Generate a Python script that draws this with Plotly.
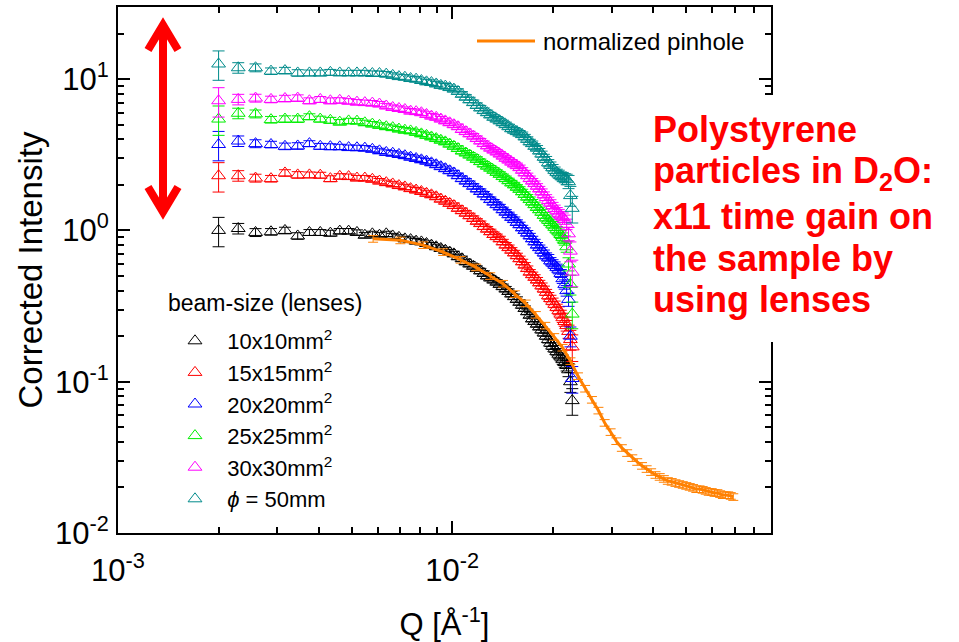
import plotly.graph_objects as go

# ---------------- data ----------------
q = [0.00200, 0.00229, 0.00258, 0.00287, 0.00316, 0.00345, 0.00374, 0.00403, 0.00432, 0.00461,
     0.00490, 0.00519, 0.00548, 0.00577, 0.00606, 0.00635, 0.00664, 0.00693, 0.00722, 0.00751,
     0.00780, 0.00809, 0.00838, 0.00867, 0.00896, 0.00925, 0.00954, 0.00983, 0.01012, 0.01041,
     0.01070, 0.01099, 0.01128, 0.01157, 0.01186, 0.01215, 0.01244, 0.01273, 0.01302, 0.01331,
     0.01360, 0.01389, 0.01418, 0.01447, 0.01476, 0.01505, 0.01534, 0.01563, 0.01592, 0.01621,
     0.01650, 0.01679, 0.01708, 0.01737, 0.01766, 0.01795, 0.01824, 0.01853, 0.01882, 0.01911,
     0.01940, 0.01969, 0.01998, 0.02027, 0.02056, 0.02085, 0.02114, 0.02143, 0.02172, 0.02201,
     0.02230, 0.02259, 0.02288]

I_10x10 = [1.0, 1.03, 0.97, 0.98, 1.0, 0.92, 0.97, 0.97, 0.96, 0.99,
           0.99, 0.97, 0.93, 0.95, 0.93, 0.95, 0.92, 0.9, 0.88, 0.87,
           0.85, 0.84, 0.82, 0.8, 0.78, 0.76, 0.74, 0.72, 0.7, 0.67,
           0.65, 0.62, 0.6, 0.58, 0.56, 0.54, 0.52, 0.5, 0.485, 0.47,
           0.455, 0.44, 0.425, 0.41, 0.395, 0.38, 0.365, 0.35, 0.335, 0.32,
           0.305, 0.29, 0.275, 0.26, 0.25, 0.24, 0.23, 0.22, 0.21, 0.2,
           0.19, 0.18, 0.172, 0.165, 0.158, 0.152, 0.146, 0.14, 0.134, 0.128,
           0.12, 0.1, 0.075]

I_15x15 = [2.3, 2.3, 2.22, 2.2, 2.4, 2.33, 2.33, 2.32, 2.2, 2.28,
           2.27, 2.22, 2.22, 2.18, 2.12, 2.07, 2.03, 1.98, 1.94, 1.89,
           1.85, 1.81, 1.76, 1.72, 1.67, 1.61, 1.56, 1.51, 1.46, 1.4,
           1.35, 1.3, 1.25, 1.2, 1.15, 1.11, 1.06, 1.02, 0.98, 0.94,
           0.91, 0.88, 0.84, 0.8, 0.77, 0.74, 0.71, 0.68, 0.65, 0.62,
           0.59, 0.56, 0.53, 0.51, 0.49, 0.47, 0.45, 0.43, 0.41, 0.39,
           0.37, 0.355, 0.34, 0.325, 0.31, 0.295, 0.28, 0.265, 0.25, 0.235,
           0.215, 0.19, 0.17]

I_20x20 = [3.7, 3.9, 3.75, 3.7, 3.6, 3.62, 3.75, 3.6, 3.58, 3.57,
           3.53, 3.52, 3.5, 3.44, 3.36, 3.28, 3.24, 3.18, 3.12, 3.05,
           2.99, 2.93, 2.87, 2.8, 2.72, 2.64, 2.56, 2.48, 2.4, 2.3,
           2.2, 2.12, 2.04, 1.96, 1.88, 1.81, 1.74, 1.67, 1.6, 1.54,
           1.48, 1.43, 1.37, 1.32, 1.27, 1.22, 1.18, 1.13, 1.09, 1.04,
           1.0, 0.96, 0.92, 0.88, 0.84, 0.8, 0.77, 0.74, 0.71, 0.68,
           0.66, 0.63, 0.61, 0.59, 0.57, 0.55, 0.52, 0.48, 0.44, 0.4,
           0.35, 0.2, 0.105]

I_25x25 = [5.45, 5.95, 5.9, 5.4, 5.45, 5.45, 5.65, 5.45, 5.35, 5.2,
           5.3, 5.28, 5.15, 5.05, 4.95, 4.85, 4.78, 4.68, 4.6, 4.55,
           4.45, 4.35, 4.25, 4.15, 4.05, 3.95, 3.85, 3.72, 3.6, 3.48,
           3.35, 3.25, 3.15, 3.05, 2.95, 2.85, 2.75, 2.66, 2.58, 2.5,
           2.42, 2.35, 2.27, 2.2, 2.13, 2.06, 2.0, 1.93, 1.87, 1.8,
           1.73, 1.66, 1.6, 1.54, 1.48, 1.42, 1.37, 1.32, 1.26, 1.21,
           1.17, 1.13, 1.09, 1.05, 1.01, 0.98, 0.94, 0.9, 0.86, 0.78,
           0.6, 0.44, 0.28]

I_30x30 = [7.2, 7.35, 7.5, 7.35, 7.45, 7.5, 7.2, 7.35, 7.2, 7.25,
           7.15, 7.05, 7.0, 6.95, 6.85, 6.65, 6.5, 6.4, 6.3, 6.15,
           6.1, 6.0, 5.85, 5.7, 5.6, 5.45, 5.3, 5.15, 5.0, 4.85,
           4.65, 4.5, 4.35, 4.2, 4.05, 3.9, 3.75, 3.62, 3.5, 3.4,
           3.3, 3.2, 3.1, 3.0, 2.92, 2.83, 2.75, 2.68, 2.6, 2.5,
           2.4, 2.3, 2.2, 2.12, 2.04, 1.96, 1.88, 1.8, 1.72, 1.65,
           1.58, 1.52, 1.46, 1.4, 1.35, 1.3, 1.26, 1.22, 1.18, 1.1,
           0.95, 0.73, 0.53]

I_phi50 = [12.6, 11.9, 11.9, 11.3, 11.4, 11.0, 11.0, 11.0, 11.1, 11.0,
           11.0, 11.0, 11.0, 10.9, 10.9, 10.8, 10.6, 10.4, 10.3, 10.1,
           10.0, 9.8, 9.6, 9.5, 9.3, 9.1, 9.0, 8.8, 8.6, 8.3,
           7.95, 7.6, 7.3, 7.0, 6.7, 6.45, 6.2, 6.0, 5.8, 5.6,
           5.45, 5.3, 5.15, 5.0, 4.85, 4.7, 4.6, 4.5, 4.4, 4.3,
           4.15, 4.0, 3.85, 3.75, 3.6, 3.5, 3.35, 3.2, 3.05, 2.95,
           2.8, 2.7, 2.6, 2.5, 2.42, 2.36, 2.3, 2.26, 2.22, 2.18,
           2.1, 1.7, 1.4]

# relative error of each lens point (same for all beam sizes)
rel_err = [0.22, 0.08, 0.06, 0.05, 0.05, 0.05, 0.045, 0.045, 0.045, 0.04,
           0.04, 0.04, 0.04, 0.04, 0.04, 0.04, 0.04, 0.04, 0.04, 0.04,
           0.04, 0.04, 0.04, 0.04, 0.04, 0.04, 0.04, 0.04, 0.04, 0.04,
           0.04, 0.04, 0.04, 0.04, 0.04, 0.04, 0.04, 0.04, 0.04, 0.04,
           0.04, 0.04, 0.04, 0.04, 0.04, 0.04, 0.04, 0.04, 0.04, 0.04,
           0.04, 0.04, 0.04, 0.04, 0.04, 0.04, 0.04, 0.045, 0.045, 0.045,
           0.05, 0.05, 0.05, 0.05, 0.05, 0.06, 0.06, 0.07, 0.07, 0.08,
           0.1, 0.15, 0.2]

q_pin = [0.0058, 0.0070, 0.0082, 0.0094, 0.0106, 0.0118, 0.0130, 0.0142, 0.0154, 0.0166,
         0.0178, 0.0190, 0.0202, 0.0214, 0.0226, 0.0238, 0.0250, 0.0262, 0.0274, 0.0286,
         0.0298, 0.0310, 0.0322, 0.0334, 0.0346, 0.0358, 0.0370, 0.0382, 0.0394, 0.0406,
         0.0418, 0.0430, 0.0442, 0.0454, 0.0466, 0.0478, 0.0490, 0.0502, 0.0514, 0.0526,
         0.0538, 0.0550, 0.0562, 0.0574, 0.0586, 0.0598, 0.0610, 0.0622, 0.0634, 0.0646,
         0.0658, 0.0670, 0.0682, 0.0694]
I_pin = [0.88, 0.86, 0.80, 0.72, 0.64, 0.57, 0.50, 0.445, 0.38, 0.33,
         0.277, 0.235, 0.198, 0.168, 0.137, 0.109, 0.090, 0.076, 0.0645, 0.0535,
         0.0465, 0.0405, 0.0365, 0.0338, 0.0313, 0.0295, 0.0278, 0.0265, 0.0253, 0.0242,
         0.0235, 0.0228, 0.0221, 0.0218, 0.0214, 0.0211, 0.0208, 0.0205, 0.0202, 0.0199,
         0.0195, 0.0195, 0.0193, 0.0190, 0.0187, 0.0187, 0.0184, 0.0184, 0.0181, 0.0178,
         0.0178, 0.0178, 0.0176, 0.0173]

series_names = ["10x10mm<sup>2</sup>", "15x15mm<sup>2</sup>", "20x20mm<sup>2</sup>",
                "25x25mm<sup>2</sup>", "30x30mm<sup>2</sup>", "<i>\u03d5</i> = 50mm"]
series_values = [I_10x10, I_15x15, I_20x20, I_25x25, I_30x30, I_phi50]
series_colors = ["#000000", "#FF0000", "#0000FF", "#00EE00", "#FF00FF", "#008B8B"]

x_ticks = [0.001, 0.01]
x_ticktext = ["10<sup>-3</sup>", "10<sup>-2</sup>"]
y_ticks = [0.01, 0.1, 1, 10]
y_ticktext = ["10<sup>-2</sup>", "10<sup>-1</sup>", "10<sup>0</sup>", "10<sup>1</sup>"]
x_minor = [0.002, 0.003, 0.004, 0.005, 0.006, 0.007, 0.008, 0.009,
           0.02, 0.03, 0.04, 0.05, 0.06, 0.07, 0.08]
y_minor = [0.02, 0.03, 0.04, 0.05, 0.06, 0.07, 0.08, 0.09,
           0.2, 0.3, 0.4, 0.5, 0.6, 0.7, 0.8, 0.9,
           2, 3, 4, 5, 6, 7, 8, 9, 20]

legend_title = "beam-size (lenses)"
note_lines = ["Polystyrene", "particles in D<sub>2</sub>O:", "x11 time gain on",
              "the sample by", "using lenses"]

# ---------------- layout geometry ----------------
W, H = 959, 642
L, R, T, B = 118, 188, 7, 109
PW, PH = W - L - R, H - T - B
FONT = "Arial, 'Liberation Sans', Helvetica, sans-serif"
X_RANGE = [-3, -1.0458]
Y_RANGE = [-2, 1.4771]


def px(x):
    return (x - L) / PW


def py(y):
    return (H - B - y) / PH


fig = go.Figure()
for name, vals, col in zip(series_names, series_values, series_colors):
    fig.add_trace(go.Scatter(
        x=q, y=vals, mode="markers", name="\u00a0\u00a0" + name,
        marker=dict(symbol="triangle-up-open", size=12, color=col,
                    line=dict(width=1, color=col)),
        error_y=dict(type="data", array=[v * e for v, e in zip(vals, rel_err)],
                     color=col, thickness=1, width=6),
    ))

fig.add_trace(go.Scatter(
    x=q_pin, y=I_pin, mode="lines", name="normalized pinhole", showlegend=False,
    line=dict(color="#FF8000", width=3),
    error_y=dict(type="percent", value=5, color="#FF8000", thickness=1, width=5),
))

# empty trace that activates the overlay axes used for the minor ticks
fig.add_trace(go.Scatter(x=[], y=[], xaxis="x2", yaxis="y2", showlegend=False,
                         hoverinfo="skip"))

axis_common = dict(
    type="log", showline=True, linecolor="black", linewidth=2, mirror="allticks",
    ticks="inside", tickwidth=2, tickcolor="black",
    showgrid=False, zeroline=False, tickmode="array", automargin=False,
)

fig.update_layout(
    width=W, height=H,
    margin=dict(l=L, r=R, t=T, b=B, autoexpand=False),
    paper_bgcolor="white", plot_bgcolor="white",
    font=dict(family=FONT, color="black"),
    xaxis=dict(axis_common, range=X_RANGE, tickvals=x_ticks, ticktext=x_ticktext,
               ticklen=12, ticklabelstandoff=9,
               tickfont=dict(family=FONT, size=31, color="black"),
               title=dict(text="Q [\u00c5<sup>-1</sup>]", font=dict(size=31), standoff=36)),
    yaxis=dict(axis_common, range=Y_RANGE, tickvals=y_ticks, ticktext=y_ticktext,
               ticklen=12, ticklabelstandoff=1,
               tickfont=dict(family=FONT, size=31, color="black"),
               title=dict(text="Corrected Intensity", font=dict(size=33), standoff=2)),
    xaxis2=dict(axis_common, range=X_RANGE, tickvals=x_minor, ticklen=6,
                overlaying="x", anchor="y", side="bottom", showticklabels=False),
    yaxis2=dict(axis_common, range=Y_RANGE, tickvals=y_minor, ticklen=6,
                overlaying="y", anchor="x", side="left", showticklabels=False),
    legend=dict(x=px(175), y=py(320), xanchor="left", yanchor="top",
                bgcolor="rgba(0,0,0,0)", font=dict(family=FONT, size=22),
                tracegroupgap=0),
    showlegend=True,
)

shapes = []
# white panel behind the note (hides the right axis there)
shapes.append(dict(type="rect", xref="paper", yref="paper", layer="above",
                   x0=px(640), x1=px(965), y0=py(342), y1=py(95),
                   fillcolor="white", line=dict(width=0)))
# pinhole legend sample line
shapes.append(dict(type="line", xref="paper", yref="paper", layer="above",
                   x0=px(477), x1=px(535), y0=py(41), y1=py(41),
                   line=dict(color="#FF8000", width=3)))
# red double arrow
red = "#FF0000"
shapes.append(dict(type="line", xref="paper", yref="paper", layer="above",
                   x0=px(163), x1=px(163), y0=py(26), y1=py(210),
                   line=dict(color=red, width=8)))
shapes.append(dict(type="path", xref="paper", yref="paper", layer="above",
                   path="M{},{} L{},{} L{},{}".format(px(148), py(50), px(163), py(25), px(178), py(50)),
                   line=dict(color=red, width=8)))
shapes.append(dict(type="path", xref="paper", yref="paper", layer="above",
                   path="M{},{} L{},{} L{},{}".format(px(148), py(187), px(163), py(212), px(178), py(187)),
                   line=dict(color=red, width=8)))
fig.update_layout(shapes=shapes)

annotations = [
    dict(xref="paper", yref="paper", x=px(541), y=py(41), xanchor="left", yanchor="middle",
         text="normalized pinhole", showarrow=False,
         font=dict(family=FONT, size=24, color="black")),
    dict(xref="paper", yref="paper", x=px(166), y=py(303), xanchor="left", yanchor="middle",
         text=legend_title, showarrow=False,
         font=dict(family=FONT, size=23, color="black")),
]
line_centers = [129, 173, 216, 258, 300]
for txt, yc in zip(note_lines, line_centers):
    annotations.append(dict(xref="paper", yref="paper", x=px(651), y=py(yc),
                            xanchor="left", yanchor="middle", text="<b>" + txt + "</b>",
                            showarrow=False, font=dict(family=FONT, size=36, color=red)))
fig.update_layout(annotations=annotations)

fig.write_html("out.html", config={"displayModeBar": False},
               post_script="document.body.style.margin='0px';")
